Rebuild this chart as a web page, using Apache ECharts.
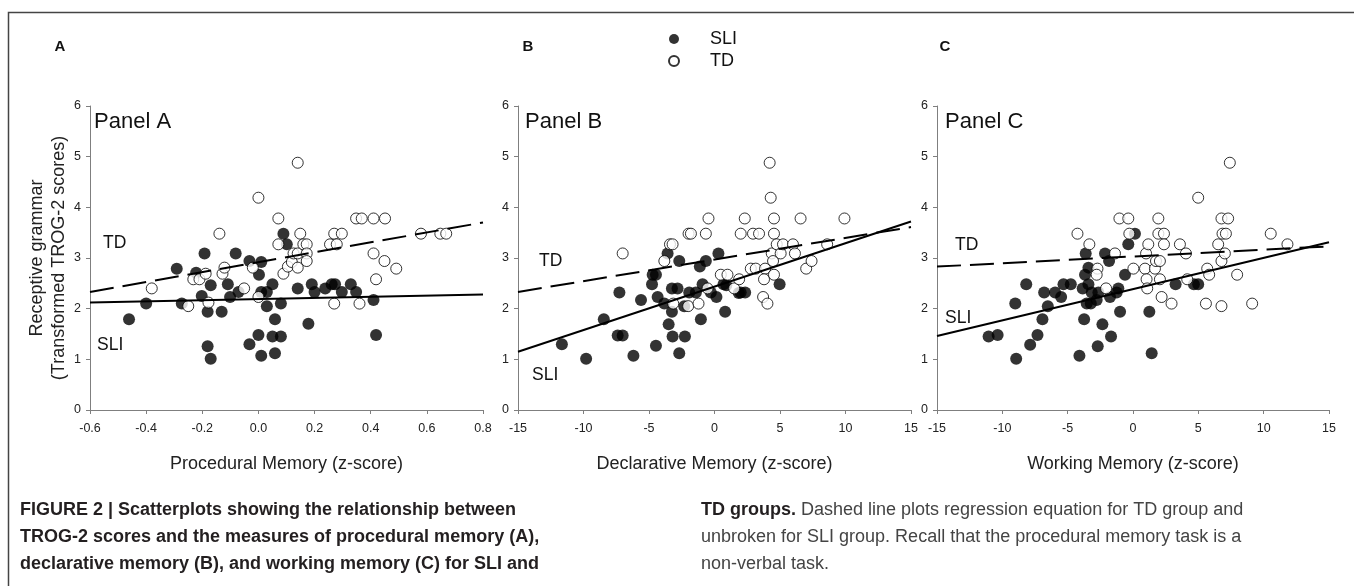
<!DOCTYPE html>
<html>
<head>
<meta charset="utf-8">
<script src="https://cdn.jsdelivr.net/npm/echarts@6/dist/echarts.min.js"></script>
<style>
html,body{margin:0;padding:0;background:#fff;}
#chart{width:1354px;height:586px;}
</style>
</head>
<body>
<div id="chart"></div>
<script>
// ---------- DATA ----------
const panelNames = ['Panel A', 'Panel B', 'Panel C'];
const panelLetters = ['A', 'B', 'C'];
const xAxisTitles = ['Procedural Memory (z-score)', 'Declarative Memory (z-score)', 'Working Memory (z-score)'];
const yAxisTitle = 'Receptive grammar\n(Transformed TROG-2 scores)';
const xRanges = [[-0.6, 0.8, 0.2], [-15, 15, 5], [-15, 15, 5]];
const yRange = [0, 6, 1];

const sliA = [[-0.461,1.79],[-0.400,2.10],[-0.291,2.79],[-0.273,2.10],[-0.222,2.71],[-0.192,3.09],[-0.202,2.25],[-0.170,2.46],[-0.181,1.94],[-0.181,1.26],[-0.170,1.01],[-0.131,1.94],[-0.109,2.48],[-0.101,2.23],[-0.081,3.09],[-0.071,2.33],[-0.032,2.94],[0.010,2.92],[0.002,2.67],[-0.032,1.30],[0.000,1.48],[0.010,1.07],[0.010,2.33],[0.030,2.33],[0.030,2.05],[0.050,2.48],[0.059,1.79],[0.050,1.45],[0.080,1.45],[0.059,1.12],[0.080,2.10],[0.089,3.48],[0.101,3.27],[0.140,2.40],[0.178,1.70],[0.190,2.48],[0.200,2.33],[0.238,2.40],[0.261,2.48],[0.273,2.48],[0.297,2.33],[0.329,2.48],[0.348,2.33],[0.410,2.17],[0.419,1.48]];
const tdA = [[-0.380,2.40],[-0.250,2.05],[-0.232,2.58],[-0.210,2.58],[-0.188,2.69],[-0.178,2.12],[-0.139,3.48],[-0.128,2.69],[-0.121,2.81],[-0.051,2.40],[-0.020,2.81],[0.000,2.23],[0.000,4.19],[0.071,3.78],[0.071,3.27],[0.089,2.69],[0.105,2.83],[0.119,2.92],[0.125,3.09],[0.140,2.81],[0.140,3.09],[0.140,4.88],[0.149,3.48],[0.160,3.27],[0.172,3.27],[0.172,3.09],[0.172,2.94],[0.255,3.27],[0.270,3.48],[0.279,3.27],[0.297,3.48],[0.270,2.10],[0.348,3.78],[0.368,3.78],[0.360,2.10],[0.410,3.78],[0.410,3.09],[0.419,2.58],[0.451,3.78],[0.449,2.94],[0.491,2.79],[0.579,3.48],[0.648,3.48],[0.669,3.48]];

const sliB = [[-11.65,1.30],[-9.80,1.01],[-8.45,1.79],[-7.26,2.32],[-7.39,1.47],[-7.01,1.47],[-6.19,1.07],[-5.61,2.17],[-4.72,2.67],[-4.47,2.67],[-4.77,2.48],[-4.34,2.23],[-4.47,1.27],[-3.83,2.10],[-3.58,3.09],[-3.50,1.69],[-3.25,2.40],[-3.25,1.94],[-3.20,1.45],[-2.82,2.40],[-2.69,2.94],[-2.69,1.12],[-2.26,1.45],[-2.31,2.05],[-1.93,2.32],[-1.42,2.32],[-1.12,2.83],[-1.04,1.79],[-0.91,2.48],[-0.66,2.94],[-0.28,2.32],[0.15,2.23],[0.30,3.09],[0.69,2.48],[0.90,2.46],[0.81,1.94],[1.85,2.31],[2.00,2.32],[2.34,2.32],[4.97,2.48]];
const tdB = [[-7.01,3.09],[-3.83,2.94],[-3.40,3.27],[-3.20,3.27],[-3.15,2.10],[-1.98,3.48],[-1.80,3.48],[-2.01,2.05],[-1.22,2.10],[-0.66,3.48],[-0.46,3.78],[-0.53,2.40],[0.48,2.67],[0.99,2.67],[1.50,2.40],[1.88,2.58],[2.00,3.48],[2.31,3.78],[2.77,2.79],[2.94,3.48],[3.40,3.48],[3.15,2.79],[3.86,2.79],[3.78,2.58],[3.71,2.23],[4.04,2.10],[4.21,4.88],[4.29,4.19],[4.54,3.78],[4.54,3.48],[4.37,3.09],[4.47,2.94],[4.54,2.67],[4.75,3.27],[5.05,3.09],[5.23,3.27],[5.99,3.27],[6.14,3.09],[6.57,3.78],[7.00,2.79],[7.41,2.94],[8.60,3.27],[9.92,3.78]];

const sliC = [[-11.05,1.45],[-10.36,1.48],[-8.94,1.01],[-9.01,2.10],[-8.17,2.48],[-7.87,1.29],[-7.31,1.48],[-6.93,1.79],[-6.80,2.32],[-6.52,2.05],[-5.96,2.32],[-5.50,2.23],[-5.32,2.48],[-4.76,2.48],[-4.10,1.07],[-3.74,1.79],[-3.62,3.09],[-3.85,2.40],[-3.67,2.67],[-3.41,2.81],[-3.41,2.48],[-3.54,2.10],[-3.23,2.10],[-3.16,2.32],[-2.78,2.17],[-2.65,2.32],[-2.70,1.26],[-2.34,1.69],[-2.14,3.09],[-1.83,2.94],[-1.76,2.23],[-1.68,1.45],[-1.25,2.32],[-1.12,2.40],[-0.99,1.94],[-0.61,2.67],[-0.36,3.27],[0.15,3.48],[1.25,1.94],[1.43,1.12],[3.26,2.48],[4.66,2.48],[4.99,2.48]];
const tdC = [[-4.25,3.48],[-3.34,3.27],[-2.72,2.79],[-2.78,2.67],[-2.06,2.40],[-1.38,3.09],[-1.04,3.78],[-0.36,3.78],[-0.28,3.48],[0.03,2.79],[0.92,2.79],[1.00,3.09],[1.17,3.27],[1.04,2.58],[1.09,2.40],[1.68,2.79],[1.76,2.94],[2.06,2.94],[1.94,3.78],[1.94,3.48],[2.37,3.48],[2.37,3.27],[2.06,2.58],[2.19,2.23],[2.95,2.10],[3.59,3.27],[4.05,3.09],[4.15,2.58],[4.99,4.19],[5.58,2.10],[5.68,2.79],[5.83,2.67],[6.52,3.27],[6.77,3.78],[7.28,3.78],[6.85,3.48],[7.11,3.48],[6.77,2.94],[7.03,3.09],[6.77,2.05],[7.41,4.88],[7.97,2.67],[9.12,2.10],[10.54,3.48],[11.82,3.27]];

// regression line end points (TD dashed, SLI solid)
const fitTdA = [[-0.6,2.33],[0.8,3.70]];
const fitSliA = [[-0.6,2.12],[0.8,2.28]];
const fitTdB = [[-15,2.33],[15,3.61]];
const fitSliB = [[-15,1.15],[15,3.72]];
const fitTdC = [[-15,2.83],[15,3.23]];
const fitSliC = [[-15,1.46],[15,3.31]];

const legendNames = ['SLI', 'TD'];
const captionLeft = [
  'FIGURE 2 | Scatterplots showing the relationship between',
  'TROG-2 scores and the measures of procedural memory (A),',
  'declarative memory (B), and working memory (C) for SLI and'
];
const captionRightBold = 'TD groups.';
const captionRight = [
  ' Dashed line plots regression equation for TD group and',
  'unbroken for SLI group. Recall that the procedural memory task is a',
  'non-verbal task.'
];

// ---------- LAYOUT ----------
const FONT = '"Liberation Sans", Arial, Helvetica, sans-serif';
const gridPos = [
  {left: 90, top: 106, width: 393, height: 304},
  {left: 518, top: 106, width: 393, height: 304},
  {left: 937, top: 106, width: 392, height: 304}
];
const sliSets = [sliA, sliB, sliC];
const tdSets = [tdA, tdB, tdC];
const fitTd = [fitTdA, fitTdB, fitTdC];
const fitSli = [fitSliA, fitSliB, fitSliC];

const axisGray = '#7f7f7f';
const xAxes = [], yAxes = [], series = [];
for (let i = 0; i < 3; i++) {
  const r = xRanges[i];
  xAxes.push({
    type: 'value', gridIndex: i, min: r[0], max: r[1], interval: r[2],
    name: xAxisTitles[i], nameLocation: 'middle', nameGap: 45,
    nameTextStyle: {fontFamily: FONT, fontSize: 18, color: '#222'},
    axisLine: {show: true, onZero: false, lineStyle: {color: axisGray, width: 1}},
    axisTick: {show: true, inside: false, length: 4, lineStyle: {color: axisGray}},
    axisLabel: {show: true, margin: 12, fontFamily: FONT, fontSize: 12.5, color: '#222',
      showMinLabel: true, showMaxLabel: true,
      formatter: i === 0 ? (v => (Math.abs(v) < 1e-9 ? 0 : v).toFixed(1)) : (v => String(Math.round(v)))},
    splitLine: {show: false}
  });
  yAxes.push({
    type: 'value', gridIndex: i, min: yRange[0], max: yRange[1], interval: yRange[2],
    name: i === 0 ? yAxisTitle : '', nameLocation: 'middle', nameGap: 17,
    nameTextStyle: {fontFamily: FONT, fontSize: 18, color: '#222', lineHeight: 22},
    axisLine: {show: true, onZero: false, lineStyle: {color: axisGray, width: 1}},
    axisTick: {show: true, inside: false, length: 4, lineStyle: {color: axisGray}},
    axisLabel: {show: true, margin: 9, fontFamily: FONT, fontSize: 12.5, color: '#222'},
    splitLine: {show: false}
  });
  series.push({
    type: 'scatter', name: 'SLI', xAxisIndex: i, yAxisIndex: i, data: sliSets[i],
    symbol: 'circle', symbolSize: 12, z: 2,
    itemStyle: {color: '#000', borderColor: '#000', borderWidth: 0},
    emphasis: {disabled: true}
  });
  series.push({
    type: 'scatter', name: 'TD', xAxisIndex: i, yAxisIndex: i, data: tdSets[i],
    symbol: 'circle', symbolSize: 11, z: 3,
    itemStyle: {color: '#fff', borderColor: '#000', borderWidth: 1},
    emphasis: {disabled: true}
  });
  series.push({
    type: 'line', name: 'TD fit', xAxisIndex: i, yAxisIndex: i, data: fitTd[i],
    symbol: 'none', z: 4, silent: true,
    lineStyle: {color: '#000', width: 2, type: [24, 9]}
  });
  series.push({
    type: 'line', name: 'SLI fit', xAxisIndex: i, yAxisIndex: i, data: fitSli[i],
    symbol: 'none', z: 4, silent: true,
    lineStyle: {color: '#000', width: 2, type: 'solid'}
  });
}

// text annotations
const graphics = [];
graphics.push({type: 'rect', shape: {x: 8.5, y: 12.5, width: 1400, height: 700}, silent: true,
  style: {fill: 'none', stroke: '#444', lineWidth: 1.5}});
const letterPos = [[60, 47], [528, 47], [945, 47]];
panelLetters.forEach((t, i) => graphics.push({type: 'text', x: letterPos[i][0], y: letterPos[i][1],
  style: {text: t, fontFamily: FONT, fontSize: 15, fontWeight: 'bold', fill: '#111', align: 'center', verticalAlign: 'middle'}}));
const panelPos = [[94, 122], [525, 122], [945, 122]];
panelNames.forEach((t, i) => graphics.push({type: 'text', x: panelPos[i][0], y: panelPos[i][1],
  style: {text: t, fontFamily: FONT, fontSize: 22, fill: '#111', align: 'left', verticalAlign: 'middle'}}));
const tdLabelPos = [[103, 243], [539, 261], [955, 245]];
const sliLabelPos = [[97, 345], [532, 375], [945, 318]];
for (let i = 0; i < 3; i++) {
  graphics.push({type: 'text', x: tdLabelPos[i][0], y: tdLabelPos[i][1],
    style: {text: 'TD', fontFamily: FONT, fontSize: 17.5, fill: '#111', align: 'left', verticalAlign: 'middle'}});
  graphics.push({type: 'text', x: sliLabelPos[i][0], y: sliLabelPos[i][1],
    style: {text: 'SLI', fontFamily: FONT, fontSize: 17.5, fill: '#111', align: 'left', verticalAlign: 'middle'}});
}
const capY = [510, 537, 564];
captionLeft.forEach((t, i) => graphics.push({type: 'text', x: 20, y: capY[i],
  style: {text: t, fontFamily: FONT, fontSize: 18, fontWeight: 'bold', fill: '#231f20', align: 'left', verticalAlign: 'middle'}}));
captionRight.forEach((t, i) => graphics.push({type: 'text', x: 701, y: capY[i],
  style: {text: i === 0 ? '{b|' + captionRightBold + '}' + t : t, fontFamily: FONT, fontSize: 18, fill: '#444',
    align: 'left', verticalAlign: 'middle',
    rich: {b: {fontFamily: FONT, fontSize: 18, fontWeight: 'bold', fill: '#231f20', color: '#231f20'}}}}));

const chart = echarts.init(document.getElementById('chart'), null, {renderer: 'canvas'});
chart.setOption({
  animation: false,
  backgroundColor: '#fff',
  legend: {
    data: legendNames, orient: 'vertical', left: 663, top: 24,
    itemWidth: 62, itemHeight: 10, itemGap: 2, selectedMode: false,
    textStyle: {fontFamily: FONT, fontSize: 18, color: '#111', lineHeight: 20}
  },
  grid: gridPos,
  xAxis: xAxes,
  yAxis: yAxes,
  series: series,
  graphic: graphics
});
</script>
</body>
</html>
